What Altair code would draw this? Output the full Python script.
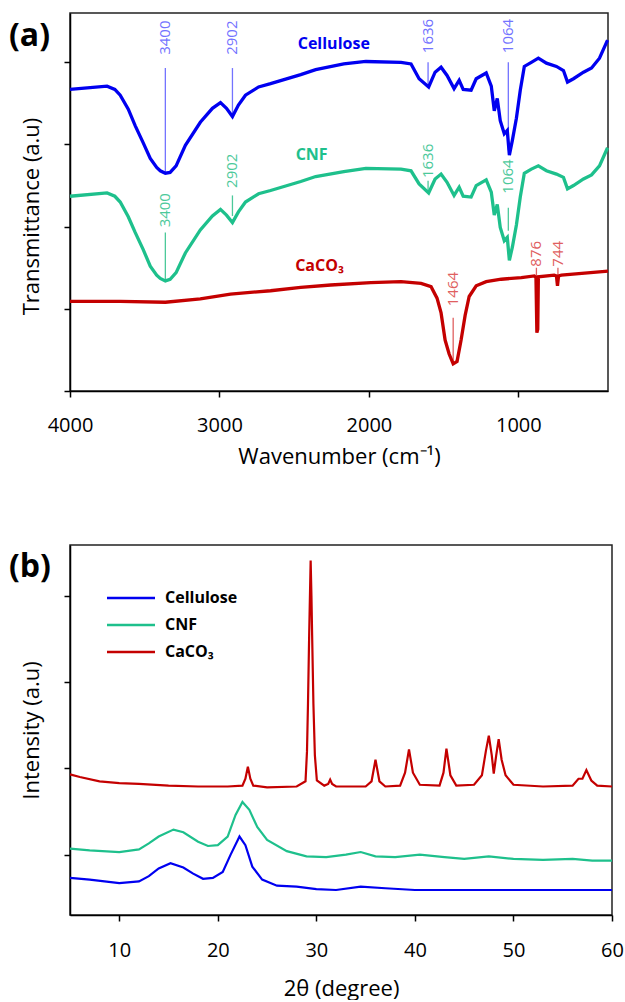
import altair as alt
import pandas as pd

# ---------------- (a) FTIR data ----------------
series_names = ["Cellulose", "CNF", "CaCO₃"]

wn_cel = [4000, 3752, 3700, 3664, 3610, 3564, 3510, 3463, 3420, 3396, 3362, 3330, 3290, 3228, 3128, 3047,
          2993, 2953, 2913, 2873, 2826, 2738, 2658, 2456, 2356, 2168, 2020, 1785, 1718, 1664, 1600, 1557,
          1517, 1477, 1430, 1396, 1369, 1316, 1282, 1215, 1181, 1161, 1141, 1121, 1094, 1074, 1060, 1040,
          1013, 987, 960, 913, 866, 812, 745, 698, 671, 631, 564, 510, 457, 403]
tr_cel = [3.67, 3.71, 3.67, 3.60, 3.43, 3.23, 3.02, 2.83, 2.72, 2.68, 2.65, 2.66, 2.74, 2.99, 3.27, 3.44,
          3.51, 3.44, 3.34, 3.48, 3.60, 3.70, 3.74, 3.85, 3.91, 3.98, 4.01, 4.00, 3.98, 3.80, 3.70, 3.88,
          3.94, 3.84, 3.68, 3.78, 3.67, 3.66, 3.80, 3.87, 3.71, 3.41, 3.56, 3.29, 3.13, 3.17, 2.87, 3.05,
          3.32, 3.66, 3.95, 4.00, 4.05, 3.99, 3.95, 3.90, 3.76, 3.80, 3.88, 3.93, 4.05, 4.27]

wn_cnf = wn_cel
tr_cnf = [2.37, 2.41, 2.37, 2.30, 2.12, 1.93, 1.72, 1.52, 1.41, 1.37, 1.34, 1.36, 1.44, 1.68, 1.96, 2.13,
          2.21, 2.14, 2.05, 2.18, 2.30, 2.40, 2.44, 2.55, 2.61, 2.67, 2.71, 2.70, 2.68, 2.52, 2.41, 2.58,
          2.64, 2.54, 2.38, 2.48, 2.37, 2.36, 2.50, 2.57, 2.42, 2.14, 2.27, 1.99, 1.83, 1.87, 1.59, 1.75,
          2.02, 2.36, 2.65, 2.70, 2.74, 2.68, 2.64, 2.60, 2.46, 2.50, 2.58, 2.63, 2.74, 2.96]

wn_ca = [4000, 3664, 3362, 3128, 2926, 2658, 2456, 2255, 1987, 1785, 1651, 1584, 1544, 1517, 1490, 1463,
         1436, 1410, 1383, 1356, 1329, 1282, 1215, 1114, 980, 893, 882, 876, 870, 866, 760, 745, 738, 731,
         712, 400]
tr_ca = [1.09, 1.09, 1.08, 1.12, 1.18, 1.22, 1.26, 1.29, 1.32, 1.33, 1.31, 1.27, 1.13, 0.95, 0.62, 0.45,
         0.33, 0.36, 0.62, 0.92, 1.15, 1.28, 1.33, 1.36, 1.38, 1.40, 1.38, 0.71, 0.75, 1.39, 1.41, 1.40,
         1.28, 1.40, 1.41, 1.46]

# curve name labels
name_x = [2235, 2383, 2330]
name_y = [4.22, 2.87, 1.52]

# peak annotations
ann_text = ["3400", "2902", "1636", "1064", "3400", "2902", "1636", "1064", "1464", "876", "744"]
ann_series = ["Cellulose"] * 4 + ["CNF"] * 4 + ["CaCO₃"] * 3
ann_x = [3362, 2913, 1604, 1067, 3362, 2913, 1604, 1067, 1436, 879, 735]
ann_ty = [4.30, 4.30, 4.32, 4.32, 2.20, 2.68, 2.80, 2.61, 1.24, 1.67, 1.67]
ann_y1 = [3.93, 3.93, 4.00, 4.00, 1.93, 2.38, 2.56, 2.23, 0.89, 1.50, 1.50]
ann_y2 = [2.65, 3.34, 3.72, 2.93, 1.34, 2.13, 2.44, 1.95, 0.34, 1.40, 1.40]

# ---------------- (b) XRD data ----------------
th_cel = [5, 7, 10, 12, 13, 14, 15.2, 16.5, 17.5, 18.5, 19.5, 20.5, 21.3, 22.2, 22.8, 23.5, 24.5, 26, 28,
          30, 32, 34.5, 37, 40, 45, 50, 55, 60]
in_cel = [-0.27, -0.29, -0.33, -0.31, -0.25, -0.16, -0.10, -0.15, -0.22, -0.28, -0.27, -0.20, 0.00, 0.21,
          0.11, -0.14, -0.29, -0.36, -0.37, -0.40, -0.41, -0.37, -0.39, -0.41, -0.41, -0.41, -0.41, -0.41]

th_cnf = [5, 7, 10, 12, 13, 14, 15.5, 16.5, 18, 19, 20, 21, 21.8, 22.5, 23.2, 24, 25, 27, 29, 31, 33, 34.5,
          36, 38, 40.5, 43, 45, 47.5, 50, 53, 56, 58, 60]
in_cnf = [0.07, 0.05, 0.03, 0.06, 0.13, 0.21, 0.29, 0.26, 0.15, 0.10, 0.11, 0.21, 0.46, 0.61, 0.52, 0.32,
          0.17, 0.04, -0.02, -0.03, 0.00, 0.03, -0.02, -0.03, 0.00, -0.03, -0.05, -0.02, -0.05, -0.06,
          -0.05, -0.07, -0.07]

th_ca = [5, 6, 8, 10, 12, 15, 18, 21, 22.5, 22.8, 23.05, 23.3, 23.6, 25, 28, 28.9, 29.05, 29.15, 29.27,
         29.42, 29.5, 29.57, 29.7, 29.85, 30.05, 30.8, 31.2, 31.4, 31.6, 32, 35, 35.6, 36.0, 36.4, 37, 38.5,
         39.0, 39.4, 39.8, 40.5, 42.5, 42.9, 43.2, 43.6, 44.2, 46, 46.8, 47.2, 47.5, 47.8, 48.0, 48.25, 48.5,
         48.8, 49.2, 50, 53, 56, 56.6, 57.0, 57.4, 57.9, 58.5, 60]
in_ca = [0.93, 0.90, 0.85, 0.83, 0.82, 0.80, 0.79, 0.79, 0.80, 0.88, 1.02, 0.88, 0.80, 0.78, 0.79, 0.85,
         1.20, 1.75, 2.55, 3.41, 3.00, 2.55, 1.75, 1.15, 0.86, 0.80, 0.82, 0.87, 0.82, 0.79, 0.79, 0.85,
         1.10, 0.85, 0.79, 0.80, 0.95, 1.22, 0.95, 0.81, 0.80, 0.95, 1.23, 0.92, 0.80, 0.81, 0.92, 1.20,
         1.38, 1.15, 0.94, 1.15, 1.34, 1.10, 0.92, 0.81, 0.79, 0.80, 0.88, 0.88, 0.98, 0.86, 0.80, 0.79]

# ---------------- styles ----------------
line_colors = ["#0000f0", "#1ec08c", "#c40000"]
light_colors = ["#7373ff", "#4cc99a", "#e06060"]
FONT = "Open Sans"


def frame(name, xs, ys, xn, yn):
    return pd.DataFrame({xn: xs, yn: ys, "series": name})


ftir = pd.concat([frame(series_names[0], wn_cel, tr_cel, "wn", "tr"),
                  frame(series_names[1], wn_cnf, tr_cnf, "wn", "tr"),
                  frame(series_names[2], wn_ca, tr_ca, "wn", "tr")], ignore_index=True)
names_df = pd.DataFrame({"series": series_names, "wn": name_x, "tr": name_y})
ann_df = pd.DataFrame({"label": ann_text, "grp": ann_series, "wn": ann_x, "ty": ann_ty,
                       "y1": ann_y1, "y2": ann_y2})
xrd = pd.concat([frame(series_names[0], th_cel, in_cel, "th", "inten"),
                 frame(series_names[1], th_cnf, in_cnf, "th", "inten"),
                 frame(series_names[2], th_ca, in_ca, "th", "inten")], ignore_index=True)

# ---------------- panel (a) ----------------
xa = alt.X("wn:Q", scale=alt.Scale(domain=[400, 4000], reverse=True, nice=False, zero=False),
           axis=alt.Axis(values=[4000, 3000, 2000, 1000], format="d", title="Wavenumber (cm⁻¹)",
                         labelPadding=18, titlePadding=11, labelFlush=False))
ya = alt.Y("tr:Q", scale=alt.Scale(domain=[0, 4.6], nice=False, zero=False),
           axis=alt.Axis(values=[0, 1, 2, 3, 4], labels=False, title="Transmittance (a.u)", titlePadding=20,
                         titleY=203))
col_a = alt.Color("series:N", scale=alt.Scale(domain=series_names, range=line_colors), legend=None)
col_ann = alt.Color("grp:N", scale=alt.Scale(domain=series_names, range=light_colors), legend=None)

lines_a = alt.Chart(ftir).mark_line(strokeWidth=3.3).encode(x=xa, y=ya, color=col_a)
names_a = alt.Chart(names_df).mark_text(font=FONT, fontSize=16, fontWeight="bold").encode(
    x="wn:Q", y="tr:Q", text="series:N", color=col_a)
rules_a = alt.Chart(ann_df).mark_rule(strokeWidth=1.3).encode(
    x="wn:Q", y="y1:Q", y2="y2:Q", color=col_ann)
texts_a = alt.Chart(ann_df).mark_text(font=FONT, fontSize=15, angle=270, align="center",
                                      baseline="middle").encode(
    x="wn:Q", y="ty:Q", text="label:N", color=col_ann)
tag_a = alt.Chart(pd.DataFrame({"t": ["(a)"]})).mark_text(
    font=FONT, fontSize=32, fontWeight="bold", align="left", baseline="middle", color="black").encode(
    x=alt.value(-61), y=alt.value(23), text="t:N")

panel_a = alt.layer(rules_a, lines_a, names_a, texts_a, tag_a).resolve_scale(color="independent").properties(
    width=538, height=378)

# ---------------- panel (b) ----------------
xb = alt.X("th:Q", scale=alt.Scale(domain=[5, 60], nice=False, zero=False),
           axis=alt.Axis(values=[10, 20, 30, 40, 50, 60], title="2θ (degree)", labelPadding=19,
                         titlePadding=18, labelFlush=False))
yb = alt.Y("inten:Q", scale=alt.Scale(domain=[-0.70, 3.59], nice=False, zero=False),
           axis=alt.Axis(values=[0, 1, 2, 3], labels=False, title="Intensity (a.u)", titlePadding=20))
col_b = alt.Color("series:N", scale=alt.Scale(domain=series_names, range=line_colors),
                  legend=alt.Legend(orient="none", legendX=53, legendY=45, title=None,
                                    symbolType="M-4,0H4", symbolSize=144, symbolStrokeWidth=2.5,
                                    labelFont=FONT, labelFontSize=16, labelFontWeight="bold",
                                    labelColor="black", labelOffset=26, rowPadding=11))
lines_b = alt.Chart(xrd).mark_line(strokeWidth=2.2).encode(x=xb, y=yb, color=col_b)
tag_b = alt.Chart(pd.DataFrame({"t": ["(b)"]})).mark_text(
    font=FONT, fontSize=32, fontWeight="bold", align="left", baseline="middle", color="black").encode(
    x=alt.value(-61), y=alt.value(22), text="t:N")
panel_b = alt.layer(lines_b, tag_b).properties(width=542, height=370)

chart = alt.vconcat(panel_a, panel_b, spacing=76).resolve_scale(color="independent").properties(
    padding={"left": 8, "top": 12, "right": 0, "bottom": 0}
).configure_view(stroke="#222", strokeWidth=1.5).configure_axis(
    grid=False, domainColor="black", domainWidth=1.5, tickColor="black", tickWidth=1.5, tickSize=6,
    labelFont=FONT, labelFontSize=20, labelColor="black", titleFont=FONT, titleFontSize=22,
    titleFontWeight="normal", titleColor="black"
)

chart.save("out.html", embed_options={"renderer": "svg", "actions": False})
